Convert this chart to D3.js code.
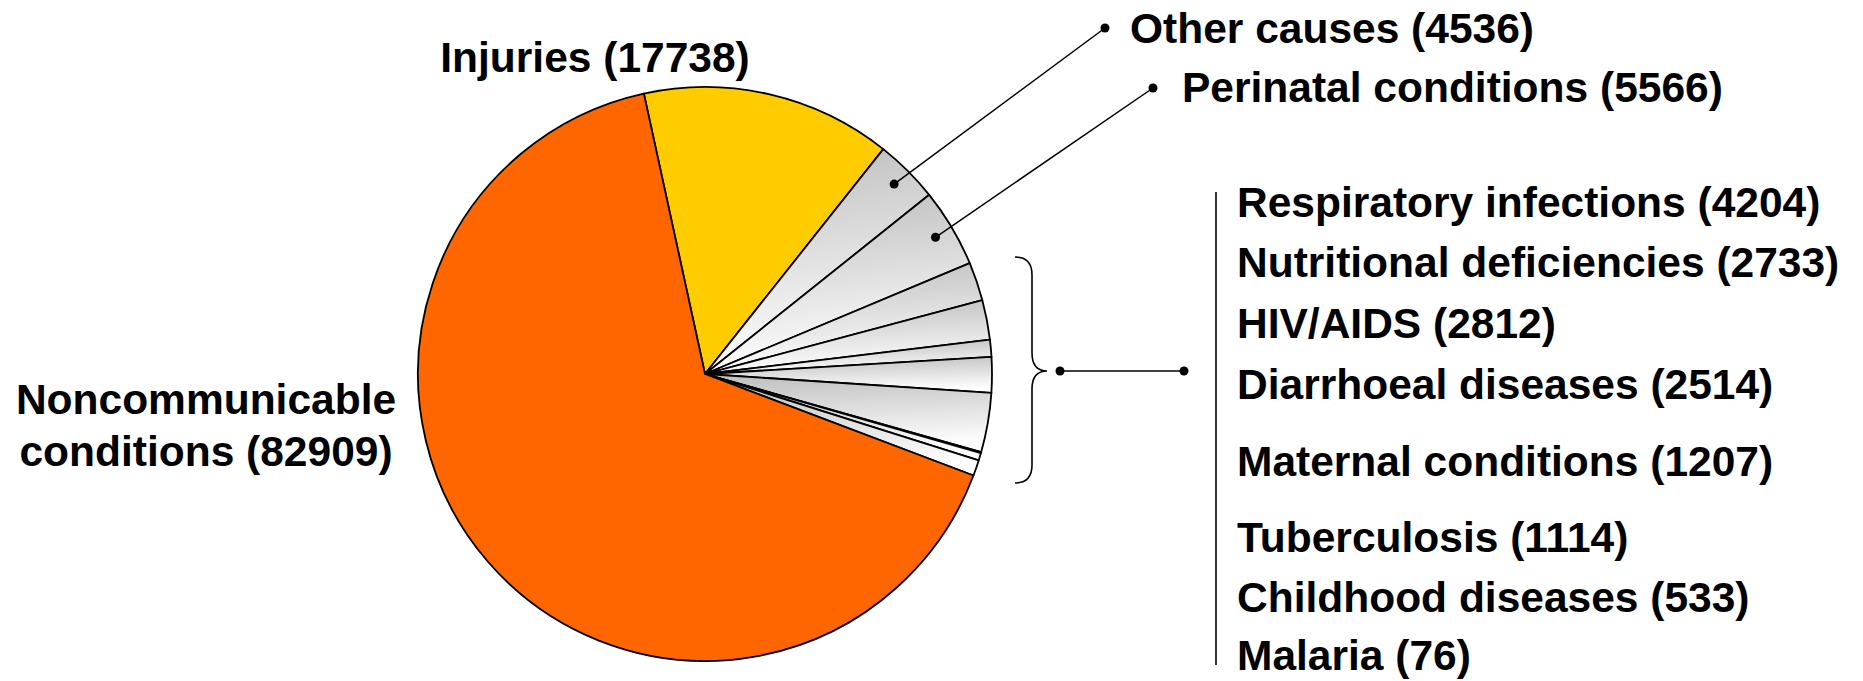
<!DOCTYPE html>
<html>
<head>
<meta charset="utf-8">
<script src="https://cdn.jsdelivr.net/npm/d3@7"></script>
<style>
  html, body { margin: 0; padding: 0; background: #fff; }
  svg text { font-family: "Liberation Sans", Arial, sans-serif; font-weight: bold; fill: #000; }
</style>
</head>
<body>
<svg id="chart" width="1863" height="681"></svg>
<script>
// ---- data (clockwise order of slices as drawn) ----
const categories = [
  "Injuries", "Other causes", "Perinatal conditions",
  "Nutritional deficiencies", "HIV/AIDS", "Maternal conditions",
  "Diarrhoeal diseases", "Respiratory infections", "Malaria",
  "Childhood diseases", "Tuberculosis", "Noncommunicable conditions"
];
const values = [17738, 4536, 5566, 2733, 2812, 1207, 2514, 4204, 76, 533, 1114, 82909];
const groups = ["injuries", "grey", "grey", "grey", "grey", "grey", "grey", "grey", "grey", "grey", "grey", "noncomm"];

// order of the communicable-disease labels in the right-hand list
const listOrder = [
  "Respiratory infections", "Nutritional deficiencies", "HIV/AIDS",
  "Diarrhoeal diseases", "Maternal conditions", "Tuberculosis",
  "Childhood diseases", "Malaria"
];
// labels with leader lines
const leaderCats = ["Other causes", "Perinatal conditions"];

// ---- layout ----
const W = 1863, H = 681;
const cx = 705, cy = 374, R = 287;
const startDeg = -12.3;
const FS = 42.5;
const listX = 1237, listY = [217, 277, 338, 399, 476, 552, 612, 670];
const leaderEnd = [{x: 1105, y: 28, tx: 1130, ty: 43}, {x: 1153, y: 88, tx: 1182, ty: 102}];

const svg = d3.select("#chart");
const defs = svg.append("defs");
const grad = defs.append("linearGradient").attr("id", "greyGrad")
  .attr("x1", 0).attr("y1", 0).attr("x2", 0.15).attr("y2", 1);
grad.append("stop").attr("offset", "0%").attr("stop-color", "#bdbdbd");
grad.append("stop").attr("offset", "100%").attr("stop-color", "#ffffff");

const fills = { injuries: "#FFCC00", noncomm: "#FF6600", grey: "url(#greyGrad)" };

const data = categories.map((c, i) => ({ cat: c, value: values[i], group: groups[i] }));
const a0 = startDeg * Math.PI / 180;
const pie = d3.pie().sort(null).value(d => d.value).startAngle(a0).endAngle(a0 + 2 * Math.PI);
const arcs = pie(data);
const arc = d3.arc().innerRadius(0).outerRadius(R);
const dotArc = d3.arc().innerRadius(268).outerRadius(268);

const g = svg.append("g").attr("transform", `translate(${cx},${cy})`);
g.selectAll("path.slice").data(arcs).join("path")
  .attr("class", "slice")
  .attr("d", arc)
  .attr("fill", d => fills[d.data.group])
  .attr("stroke", "#000")
  .attr("stroke-width", 1.8)
  .attr("stroke-linejoin", "round");

// leader lines for Other causes / Perinatal
leaderCats.forEach((c, i) => {
  const a = arcs.find(d => d.data.cat === c);
  const [px, py] = dotArc.centroid(a);
  const e = leaderEnd[i];
  svg.append("line").attr("x1", cx + px).attr("y1", cy + py).attr("x2", e.x).attr("y2", e.y)
    .attr("stroke", "#000").attr("stroke-width", 1.5);
  svg.append("circle").attr("cx", cx + px).attr("cy", cy + py).attr("r", 4.5).attr("fill", "#000");
  svg.append("circle").attr("cx", e.x).attr("cy", e.y).attr("r", 4.5).attr("fill", "#000");
  svg.append("text").attr("x", e.tx).attr("y", e.ty).attr("font-size", FS)
    .text(`${c} (${a.data.value})`);
});

// Injuries label
const inj = data.find(d => d.cat === "Injuries");
svg.append("text").attr("x", 595).attr("y", 72).attr("text-anchor", "middle").attr("font-size", FS)
  .text(`${inj.cat} (${inj.value})`);

// Noncommunicable label (two lines)
const nc = data.find(d => d.cat === "Noncommunicable conditions");
const ncText = svg.append("text").attr("text-anchor", "middle").attr("font-size", FS);
ncText.append("tspan").attr("x", 206).attr("y", 414).text("Noncommunicable");
ncText.append("tspan").attr("x", 206).attr("y", 466).text(`conditions (${nc.value})`);

// brace
const bx0 = 1015, bxv = 1032, bxt = 1047, by0 = 257, bym = 371, by1 = 483, k = 18;
svg.append("path")
  .attr("d", `M${bx0},${by0} Q${bxv},${by0} ${bxv},${by0 + k} L${bxv},${bym - k} Q${bxv},${bym} ${bxt},${bym} ` +
             `Q${bxv},${bym} ${bxv},${bym + k} L${bxv},${by1 - k} Q${bxv},${by1} ${bx0},${by1}`)
  .attr("fill", "none").attr("stroke", "#000").attr("stroke-width", 1.6);
svg.append("line").attr("x1", 1060).attr("y1", bym).attr("x2", 1184).attr("y2", bym)
  .attr("stroke", "#000").attr("stroke-width", 1.6);
svg.append("circle").attr("cx", 1060).attr("cy", bym).attr("r", 4.5).attr("fill", "#000");
svg.append("circle").attr("cx", 1184).attr("cy", bym).attr("r", 4.5).attr("fill", "#000");

// vertical bar of the list
svg.append("line").attr("x1", 1216).attr("y1", 192).attr("x2", 1216).attr("y2", 665)
  .attr("stroke", "#000").attr("stroke-width", 1.6);

// list labels
svg.selectAll("text.list").data(listOrder).join("text")
  .attr("class", "list")
  .attr("x", listX)
  .attr("y", (d, i) => listY[i])
  .attr("font-size", FS)
  .text(d => `${d} (${data.find(x => x.cat === d).value})`);
</script>
</body>
</html>
